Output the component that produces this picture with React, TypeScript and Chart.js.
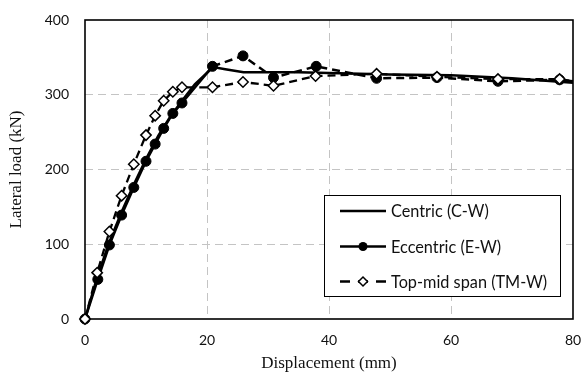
import { useEffect, useRef } from "react";
import { Chart, registerables } from "chart.js";

Chart.register(...registerables);

// ---- Data ----
const centricX = [0, 2, 4, 6, 8, 10, 12, 14, 16, 18, 21, 23, 26, 30, 35, 40, 50, 60, 70, 80];
const centricY = [0, 56, 103, 143, 180, 214, 245, 271, 293, 314, 337, 334, 330, 330, 330, 329, 327, 326, 322, 316];

const eccentricX = [0, 2.1, 4, 6, 8, 10, 11.5, 12.9, 14.4, 15.9, 20.9, 25.9, 30.9, 37.9, 47.8, 57.7, 67.7, 77.8, 80];
const eccentricY = [0, 53, 99, 139, 176, 211, 234, 255, 275, 289, 338, 352, 323, 338, 322, 323, 318, 320, 318];

const topMidX = [0, 2, 4, 6, 8, 10, 11.5, 12.9, 14.4, 15.9, 20.9, 25.9, 30.9, 37.8, 47.8, 57.7, 67.7, 77.8, 80];
const topMidY = [0, 62, 117, 165, 207, 246, 272, 292, 304, 310, 310, 317, 312, 325, 328, 324, 321, 321, 318];

const xTicks = [0, 20, 40, 60, 80];
const yTicks = [0, 100, 200, 300, 400];

const seriesLabels = ["Centric (C-W)", "Eccentric (E-W)", "Top-mid span (TM-W)"];
const xTitle = "Displacement (mm)";
const yTitle = "Lateral load (kN)";

const toPoints = (xs: number[], ys: number[]) => xs.map((x, i) => ({ x, y: ys[i] }));

const SANS = "Lato, 'Open Sans', sans-serif";
const SERIF = "'Liberation Serif', 'Times New Roman', serif";

const framePlugin = {
  id: "frame",
  beforeDatasetsDraw(chart: any) {
    const { ctx, chartArea } = chart;
    ctx.save();
    ctx.strokeStyle = "#000";
    ctx.lineWidth = 1.6;
    ctx.strokeRect(chartArea.left, chartArea.top, chartArea.right - chartArea.left, chartArea.bottom - chartArea.top);
    ctx.restore();
  },
};

const legendPlugin = {
  id: "boxLegend",
  afterDraw(chart: any) {
    const { ctx } = chart;
    const left = 324.5, top = 195.5, w = 236, h = 101;
    ctx.save();
    ctx.fillStyle = "#fff";
    ctx.fillRect(left, top, w, h);
    ctx.strokeStyle = "#000";
    ctx.lineWidth = 1;
    ctx.strokeRect(left, top, w, h);
    const rows = [211, 246.5, 281.5];
    const x0 = 340, x1 = 386, xm = 363;
    ctx.font = "16.3px " + SANS;
    ctx.textBaseline = "middle";
    ctx.textAlign = "left";
    seriesLabels.forEach((label, i) => {
      const y = rows[i];
      ctx.strokeStyle = "#000";
      ctx.lineWidth = 2.5;
      ctx.setLineDash(i === 2 ? [10, 8] : []);
      ctx.beginPath();
      ctx.moveTo(x0, y);
      ctx.lineTo(x1, y);
      ctx.stroke();
      ctx.setLineDash([]);
      if (i === 1) {
        ctx.fillStyle = "#000";
        ctx.beginPath();
        ctx.arc(xm, y, 4.5, 0, Math.PI * 2);
        ctx.fill();
      } else if (i === 2) {
        ctx.fillStyle = "#fff";
        ctx.lineWidth = 1.5;
        ctx.beginPath();
        ctx.moveTo(xm - 4.5, y);
        ctx.lineTo(xm, y - 4.5);
        ctx.lineTo(xm + 4.5, y);
        ctx.lineTo(xm, y + 4.5);
        ctx.closePath();
        ctx.fill();
        ctx.stroke();
      }
      ctx.fillStyle = "#111";
      ctx.fillText(label, 391, y + 1);
    });
    ctx.restore();
  },
};

export default function App() {
  const canvasRef = useRef<HTMLCanvasElement | null>(null);

  useEffect(() => {
    const canvas = canvasRef.current;
    if (!canvas) return;
    const gridColor = (n: number) => (ctx: any) =>
      ctx.index === 0 || ctx.index === n - 1 ? "rgba(0,0,0,0)" : "#c4c4c4";
    const chart = new Chart(canvas, {
      type: "scatter",
      data: {
        datasets: [
          {
            label: seriesLabels[0],
            data: toPoints(centricX, centricY),
            showLine: true,
            borderColor: "#000",
            backgroundColor: "#000",
            borderWidth: 2.5,
            pointRadius: 0,
            tension: 0,
            order: 3,
            clip: false as any,
          },
          {
            label: seriesLabels[1],
            data: toPoints(eccentricX, eccentricY),
            showLine: true,
            borderColor: "#000",
            backgroundColor: "#000",
            borderWidth: 2.5,
            pointRadius: eccentricX.map((x) => (x >= 80 ? 0 : 5)),
            pointBorderWidth: 1,
            pointStyle: "circle",
            segment: {
              borderDash: (c: any) => (c.p0DataIndex >= 10 ? [8, 5] : undefined),
            },
            order: 2,
            clip: false as any,
          },
          {
            label: seriesLabels[2],
            data: toPoints(topMidX, topMidY),
            showLine: true,
            borderColor: "#000",
            backgroundColor: "#fff",
            borderWidth: 2.3,
            borderDash: [8, 5],
            pointRadius: topMidX.map((x) => (x >= 80 ? 0 : 5.2)),
            pointBorderWidth: 1.5,
            pointStyle: "rectRot",
            order: 1,
            clip: false as any,
          },
        ],
      },
      options: {
        responsive: false,
        animation: false,
        devicePixelRatio: 1,
        layout: { padding: { left: 0, right: 12, top: 20, bottom: 0 } },
        plugins: {
          legend: { display: false },
          tooltip: { enabled: false },
        },
        scales: {
          x: {
            type: "linear",
            min: xTicks[0],
            max: xTicks[xTicks.length - 1],
            afterBuildTicks: (scale: any) => {
              scale.ticks = xTicks.map((v) => ({ value: v }));
            },
            afterFit: (scale: any) => {
              scale.height = 57;
              scale.paddingLeft = 0;
              scale.paddingRight = 0;
            },
            border: { display: false, dash: [8, 5] },
            grid: {
              display: true,
              color: gridColor(xTicks.length),
              lineWidth: 1,
              drawTicks: false,
              drawOnChartArea: true,
            },
            ticks: {
              padding: 13,
              color: "#111",
              font: { family: SANS, size: 14 },
              maxRotation: 0,
            },
            title: {
              display: true,
              text: xTitle,
              color: "#111",
              font: { family: SERIF, size: 17 },
              padding: { top: 0, bottom: 2 },
            },
          },
          y: {
            type: "linear",
            min: yTicks[0],
            max: yTicks[yTicks.length - 1],
            afterBuildTicks: (scale: any) => {
              scale.ticks = yTicks.map((v) => ({ value: v }));
            },
            afterFit: (scale: any) => {
              scale.width = 85;
              scale.paddingTop = 0;
              scale.paddingBottom = 0;
            },
            border: { display: false, dash: [8, 5] },
            grid: {
              display: true,
              color: gridColor(yTicks.length),
              lineWidth: 1,
              drawTicks: false,
              drawOnChartArea: true,
            },
            ticks: {
              padding: 16,
              color: "#111",
              font: { family: SANS, size: 14 },
            },
            title: {
              display: true,
              text: yTitle,
              color: "#111",
              font: { family: SERIF, size: 17 },
              padding: { top: 6, bottom: 0 },
            },
          },
        },
      } as any,
      plugins: [framePlugin, legendPlugin],
    });
    return () => chart.destroy();
  }, []);

  return (
    <div style={{ position: "fixed", left: 0, top: 0, width: 585, height: 376, background: "#fff" }}>
      <canvas ref={canvasRef} width={585} height={376} style={{ width: 585, height: 376, display: "block" }} />
    </div>
  );
}
